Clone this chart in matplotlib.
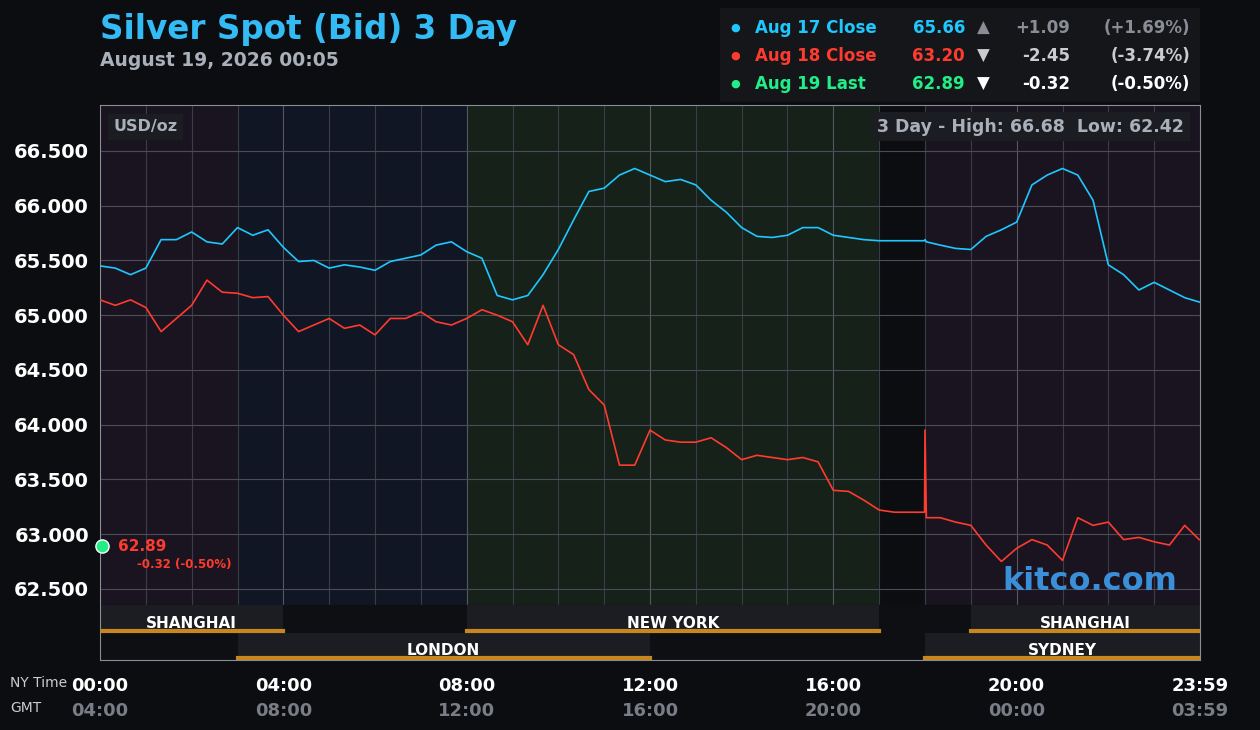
import matplotlib
matplotlib.use("Agg")
import matplotlib.pyplot as plt
import numpy as np

hours = [i/3 for i in range(54)] + [17.99, 18.0, 18.03] + [i/3 for i in range(55,72)] + [23.983]
blue = [65.45,65.43,65.37,65.43,65.69,65.69,65.76,65.67,65.65,65.80,65.73,65.78,
        65.62,65.49,65.50,65.43,65.46,65.44,65.41,65.49,65.52,65.55,65.64,65.67,
        65.58,65.52,65.18,65.14,65.18,65.37,65.60,65.87,66.13,66.16,66.28,66.34,
        66.28,66.22,66.24,66.19,66.05,65.94,65.80,65.72,65.71,65.73,65.80,65.80,
        65.73,65.71,65.69,65.68,65.68,65.68,65.68,65.69,65.67,65.64,65.61,65.60,65.72,65.78,
        65.85,66.19,66.28,66.34,66.28,66.05,65.46,65.37,65.23,65.30,65.23,65.16,65.12]
red = [65.14,65.09,65.14,65.07,64.85,64.97,65.09,65.32,65.21,65.20,65.16,65.17,
       65.00,64.85,64.91,64.97,64.88,64.91,64.82,64.97,64.97,65.03,64.94,64.91,
       64.97,65.05,65.00,64.94,64.73,65.09,64.73,64.64,64.32,64.18,63.63,63.63,
       63.95,63.86,63.84,63.84,63.88,63.79,63.68,63.72,63.70,63.68,63.70,63.66,
       63.40,63.39,63.31,63.22,63.20,63.20,63.20,63.95,63.15,63.15,63.11,63.08,62.90,62.75,
       62.87,62.95,62.90,62.76,63.15,63.08,63.11,62.95,62.97,62.93,62.90,63.08,62.95]
yticks = [62.5,63.0,63.5,64.0,64.5,65.0,65.5,66.0,66.5]
ny_labels = ["00:00","04:00","08:00","12:00","16:00","20:00","23:59"]
gmt_labels = ["04:00","08:00","12:00","16:00","20:00","00:00","03:59"]
tick_hours = [0,4,8,12,16,20,24]

BG = "#0b0d10"
fig = plt.figure(figsize=(12.6,7.3), dpi=100, facecolor=BG)
ax = fig.add_axes([100/1260, 70/730, 1100/1260, 555/730], facecolor=BG)
ymin, ymax = 61.85, 66.92
ax.set_xlim(0,24); ax.set_ylim(ymin,ymax)
for a,b,c in [(0,3,"#1a1420"),(3,8,"#111624"),(8,17,"#16211a"),(17,18,"#0b0d10"),(18,24,"#1a1420")]:
    ax.axvspan(a,b,color=c,zorder=0)
for h in range(1,24):
    ax.axvline(h,color="#3a3d45" if h%4 else "#555860",lw=0.8,zorder=1)
for v in yticks:
    ax.axhline(v,color="#4a4d55",lw=0.8,zorder=1)
r1y0 = 66.5-(605-151)/109.5; r1y1 = 66.5-(633-151)/109.5
r2y1 = ymin
ax.axhspan(r2y1, r1y0, color="#0e0f12", zorder=2)
for a,b,name,lo,hi in [(0,4,"SHANGHAI",r1y1,r1y0),(8,17,"NEW YORK",r1y1,r1y0),(19,24,"SHANGHAI",r1y1,r1y0),
                       (3,12,"LONDON",r2y1,r1y1),(18,24,"SYDNEY",r2y1,r1y1)]:
    ax.fill_between([a,b],lo,hi,color="#1b1d22",zorder=2,lw=0)
    ax.plot([a,b],[lo+0.02,lo+0.02],color="#c8861e",lw=3,zorder=3)
    ax.text((a+b)/2,lo+0.02,name,color="white",ha="center",va="bottom",fontsize=11,fontweight="bold",zorder=4)
ax.plot(hours,blue,color="#1ec8ff",lw=1.2,zorder=5)
ax.plot(hours,red,color="#ff3b2f",lw=1.2,zorder=5)
ax.set_yticks(yticks)
ax.set_yticklabels([f"{v:.3f}" for v in yticks],color="white",fontsize=14,fontweight="bold")
ax.set_xticks([])
ax.tick_params(axis="y",length=0,pad=8)
for s in ax.spines.values(): s.set_color("#8a8d95")
ax.scatter([0.05],[62.89],s=90,color="#22ee88",edgecolor="white",zorder=6,clip_on=False)
ax.text(0.4,62.89,"62.89",color="#ff3b2f",fontsize=11,fontweight="bold",va="center")
ax.text(0.8,62.72,"-0.32 (-0.50%)",color="#ff3b2f",fontsize=8.5,fontweight="bold",va="center")
ax.text(0.3,66.72,"USD/oz",color="#aab0ba",fontsize=11.5,fontweight="bold",va="center",
        bbox=dict(facecolor="#1b1d22",edgecolor="none"))
ax.text(23.65,66.72,"3 Day - High: 66.68  Low: 62.42",color="#aab0ba",fontsize=12.5,fontweight="bold",
        ha="right",va="center",bbox=dict(facecolor="#1b1d22",edgecolor="none"))
ax.text(23.5,62.57,"kitco.com",color="#3a8fd8",fontsize=23,fontweight="bold",ha="right",va="center",zorder=6)
for h,l1,l2 in zip(tick_hours,ny_labels,gmt_labels):
    x = (100+h/24*1100)/1260
    fig.text(x,1-686/730,l1,color="white",fontsize=13,fontweight="bold",ha="center",va="center")
    fig.text(x,1-711/730,l2,color="#7a7d85",fontsize=13,fontweight="bold",ha="center",va="center")
fig.text(10/1260,1-683/730,"NY Time",color="#cccccc",fontsize=10,va="center")
fig.text(10/1260,1-708/730,"GMT",color="#cccccc",fontsize=10,va="center")
fig.text(100/1260,1-30/730,"Silver Spot (Bid) 3 Day",color="#33bbf5",fontsize=23.5,fontweight="bold",va="center")
fig.text(100/1260,1-60/730,"August 19, 2026 00:05",color="#aab0ba",fontsize=13.5,fontweight="bold",va="center")
fig.patches.append(matplotlib.patches.Rectangle((720/1260,1-102/730),480/1260,94/730,transform=fig.transFigure,
                   facecolor="#14161a",edgecolor="none"))
rows = [("Aug 17 Close","65.66","▲","+1.09","(+1.69%)","#1ec8ff","#8a8d95"),
        ("Aug 18 Close","63.20","▼","-2.45","(-3.74%)","#ff3b2f","#cccccc"),
        ("Aug 19 Last","62.89","▼","-0.32","(-0.50%)","#22ee88","white")]
for i,(n,v,a,c,p,col,cc) in enumerate(rows):
    y = 1-(28+28*i)/730
    fig.text(735/1260,y,"●",color=col,fontsize=8,va="center",ha="center")
    fig.text(755/1260,y,n,color=col,fontsize=12,fontweight="bold",va="center")
    fig.text(965/1260,y,v,color=col,fontsize=12,fontweight="bold",va="center",ha="right")
    fig.text(983/1260,y,a,color=cc,fontsize=12,va="center",ha="center")
    fig.text(1070/1260,y,c,color=cc,fontsize=12,fontweight="bold",va="center",ha="right")
    fig.text(1190/1260,y,p,color=cc,fontsize=12,fontweight="bold",va="center",ha="right")
fig.savefig("out.png",dpi=100,facecolor=BG)
